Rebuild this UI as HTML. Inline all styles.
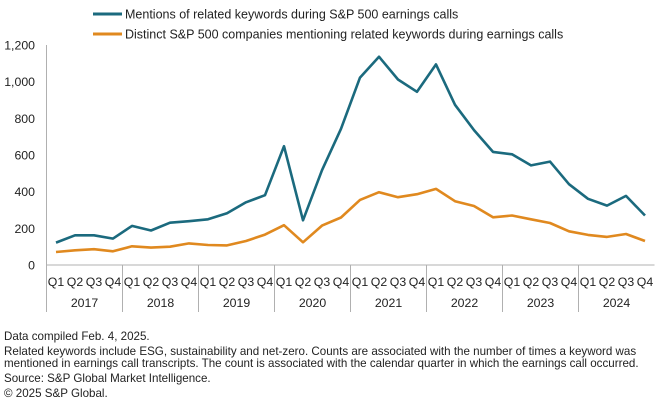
<!DOCTYPE html>
<html><head><meta charset="utf-8"><style>
body{margin:0;background:#fff;font-family:"Liberation Sans",sans-serif;}
#wrap{position:relative;width:660px;height:408px;overflow:hidden;}
.note{position:absolute;left:4px;font-size:11.6px;color:#222;line-height:12px;white-space:nowrap;}
</style></head><body>
<div id="wrap">
<svg id="chart" width="660" height="408" style="position:absolute;left:0;top:0;font-family:'Liberation Sans',sans-serif;"></svg>
<div class="note" style="top:331px">Data compiled Feb. 4, 2025.</div>
<div class="note" style="top:346px">Related keywords include ESG, sustainability and net-zero. Counts are associated with the number of times a keyword was<br>mentioned in earnings call transcripts. The count is associated with the calendar quarter in which the earnings call occurred.</div>
<div class="note" style="top:373px">Source: S&amp;P Global Market Intelligence.</div>
<div class="note" style="top:388px">© 2025 S&amp;P Global.</div>
</div>
<script>
const years = ["2017","2018","2019","2020","2021","2022","2023","2024"];
const quarters = ["Q1","Q2","Q3","Q4"];
const yTicks = [0,200,400,600,800,1000,1200];
const yTickLabels = ["0","200","400","600","800","1,000","1,200"];
const mentions = [122,162,162,144,213,188,231,239,249,282,342,381,648,244,517,743,1022,1136,1012,945,1094,874,736,617,604,543,564,441,361,324,377,270];
const companies = [71,80,86,75,102,95,100,118,109,107,131,166,217,124,215,259,355,397,370,386,415,348,322,260,270,249,229,184,164,153,169,131];
const seriesNames = ["Mentions of related keywords during S&P 500 earnings calls","Distinct S&P 500 companies mentioning related keywords during earnings calls"];
const colors = ["#1b6a7e","#e0891f"];

const svg = document.getElementById('chart');
const NS = 'http://www.w3.org/2000/svg';
const x0 = 46.5, band = 19, y0 = 265, yTop = 45, yMax = 1200;
const n = mentions.length;
function xs(i){ return x0 + band*(i+0.5); }
function ys(v){ return y0 - (v/yMax)*(y0-yTop); }
function mk(tag, attrs, parent){ const e=document.createElementNS(NS,tag); for(const k in attrs) e.setAttribute(k,attrs[k]); (parent||svg).appendChild(e); return e; }

seriesNames.forEach((s,i)=>{
  const g = mk('g',{});
  
  
  const yy = 14 + i*20;
  mk('line',{x1:93,x2:122,y1:yy,y2:yy,stroke:colors[i],'stroke-width':3},g);
  const t = mk('text',{x:125,y:yy+4.5,'font-size':12.5,fill:'#222'},g);
  t.textContent = s;
});

const yAxis = mk('line',{x1:x0,x2:x0,y1:yTop,y2:312,stroke:'#b0b0b0','stroke-width':1});


const xAxis = mk('line',{x1:x0,x2:x0+band*n,y1:y0,y2:y0,stroke:'#b0b0b0','stroke-width':1});


yTicks.forEach((v,i)=>{
  const t = mk('text',{x:35,y:ys(v)+4.5,'text-anchor':'end','font-size':12.3,fill:'#222'});
  
  
  t.textContent = yTickLabels[i];
});
for(let i=0;i<n;i++){
  const t = mk('text',{x:xs(i),y:286,'text-anchor':'middle','font-size':12.3,fill:'#222'});
  
  
  t.textContent = quarters[i%4];
}
years.forEach((yr,k)=>{
  const xl = x0 + band*4*(k+1);
  if(k<years.length-1){
    const l = mk('line',{x1:xl,x2:xl,y1:y0,y2:312,stroke:'#b0b0b0','stroke-width':1});
    
    
  }
  const t = mk('text',{x:x0+band*4*k+band*2,y:307,'text-anchor':'middle','font-size':12.3,fill:'#222'});
  
  
  t.textContent = yr;
});
[mentions, companies].forEach((arr,si)=>{
  const d = arr.map((v,i)=>(i?'L':'M')+xs(i).toFixed(1)+' '+ys(v).toFixed(1)).join(' ');
  const p = mk('path',{d:d,fill:'none',stroke:colors[si],'stroke-width':2.6,'stroke-linejoin':'round'});
  
  
});
</script>
</body></html>
